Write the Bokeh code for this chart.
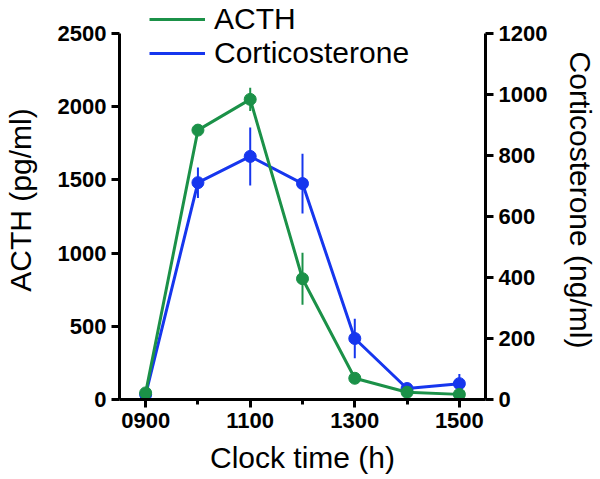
from bokeh.plotting import figure
from bokeh.models import Range1d, LinearAxis, FixedTicker, Legend, LegendItem
from bokeh.embed import file_html
from bokeh.resources import INLINE

# Data
hours = [9, 10, 11, 12, 13, 14, 15]
x_ticks = [9, 11, 13, 15]
x_minor = [10, 12, 14]
x_tick_labels = ["0900", "1100", "1300", "1500"]
acth_ticks = [0, 500, 1000, 1500, 2000, 2500]
cort_ticks = [0, 200, 400, 600, 800, 1000, 1200]
acth = [45, 1840, 2050, 825, 145, 50, 35]
acth_err = [10, 30, 80, 178, 25, 10, 8]
cort = [16, 711, 797, 708, 200, 36, 52]
cort_err = [5, 50, 95, 98, 65, 10, 32]

GREEN = "#1b9148"
BLUE = "#1636ee"
FONT = "Liberation Sans"

# frame spans the full height so the legend above the axes' top is not clipped;
# the axes themselves are bounded to their data extent
FRAME_H = 399.0
AXIS_H = 366.0
acth_max = acth_ticks[-1]
cort_max = cort_ticks[-1]

p = figure(width=600, height=479, output_backend="svg", toolbar_location=None,
           x_range=Range1d(8.5, 15.5), y_range=Range1d(0, acth_max * FRAME_H / AXIS_H),
           min_border_left=118, min_border_right=115, min_border_top=0, min_border_bottom=80)
p.extra_y_ranges = {"cort": Range1d(0, cort_max * FRAME_H / AXIS_H)}
p.outline_line_color = None
p.xgrid.visible = False
p.ygrid.visible = False
p.background_fill_color = "white"
p.border_fill_color = "white"

raxis = LinearAxis(y_range_name="cort", ticker=FixedTicker(ticks=cort_ticks),
                   axis_label="Corticosterone (ng/ml)", bounds=(0, cort_max))
p.add_layout(raxis, "right")

lax = p.yaxis[0]
lax.ticker = FixedTicker(ticks=acth_ticks)
lax.bounds = (0, acth_max)
lax.axis_label = "ACTH (pg/ml)"
xax = p.xaxis[0]
xax.ticker = FixedTicker(ticks=x_ticks, minor_ticks=x_minor)
xax.major_label_overrides = {t: l for t, l in zip(x_ticks, x_tick_labels)}
xax.axis_label = "Clock time (h)"

for ax in [lax, raxis, xax]:
    ax.axis_line_width = 3
    ax.axis_line_color = "black"
    ax.major_tick_line_width = 3
    ax.major_tick_line_color = "black"
    ax.major_tick_in = 0
    ax.major_tick_out = 8
    ax.minor_tick_in = 0
    ax.minor_tick_out = 0
    ax.major_label_text_font = FONT
    ax.major_label_text_font_style = "bold"
    ax.major_label_text_font_size = "22px"
    ax.major_label_text_color = "black"
    ax.axis_label_text_font = FONT
    ax.axis_label_text_font_style = "normal"
    ax.axis_label_text_font_size = "30px"
    ax.axis_label_text_color = "black"
    ax.major_label_standoff = 5
lax.axis_label_standoff = 18
raxis.axis_label_standoff = 14
xax.axis_label_standoff = 10
xax.minor_tick_out = 5
xax.minor_tick_line_width = 3
xax.minor_tick_line_color = "black"

# Corticosterone (drawn first)
cort_lo = [v - e for v, e in zip(cort, cort_err)]
cort_hi = [v + e for v, e in zip(cort, cort_err)]
p.segment(x0=hours, y0=cort_lo, x1=hours, y1=cort_hi, line_color=BLUE, line_width=2, y_range_name="cort")
bl = p.line(hours, cort, line_color=BLUE, line_width=3, y_range_name="cort")
p.scatter(hours, cort, size=12, fill_color=BLUE, line_color=BLUE, y_range_name="cort")

# ACTH
acth_lo = [v - e for v, e in zip(acth, acth_err)]
acth_hi = [v + e for v, e in zip(acth, acth_err)]
p.segment(x0=hours, y0=acth_lo, x1=hours, y1=acth_hi, line_color=GREEN, line_width=2)
gl = p.line(hours, acth, line_color=GREEN, line_width=3)
p.scatter(hours, acth, size=12, fill_color=GREEN, line_color=GREEN)

legend = Legend(items=[LegendItem(label="ACTH", renderers=[gl]),
                       LegendItem(label="Corticosterone", renderers=[bl])],
                location=(30, 329), glyph_width=56, glyph_height=30, label_standoff=9,
                label_text_font=FONT, label_text_font_size="30px", label_text_color="black",
                padding=0, margin=0, spacing=0, border_line_color=None, background_fill_alpha=0)
p.add_layout(legend)

open("out.html", "w").write(file_html(p, INLINE))
